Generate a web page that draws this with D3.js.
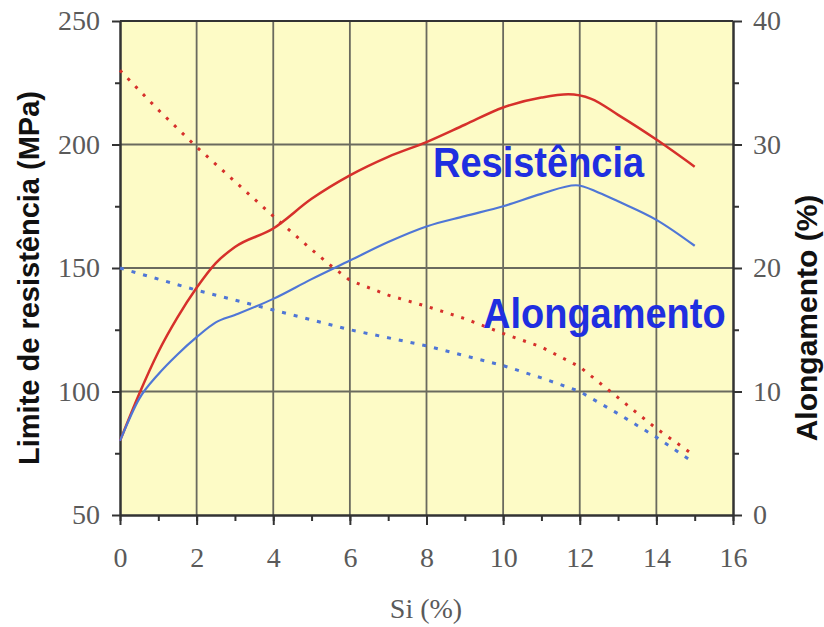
<!DOCTYPE html>
<html>
<head>
<meta charset="utf-8">
<script src="https://cdn.jsdelivr.net/npm/d3@7"></script>
<style>
  body { margin: 0; background: #fff; }
  svg { display: block; }
</style>
</head>
<body>
<script>
// data
const siRes = [0, 0.5, 1, 1.5, 2, 2.5, 3, 4, 5, 6, 7, 8, 9, 10, 11, 11.7, 12.3, 13, 14, 15]
const resRed = [80, 99, 116, 130, 142, 152, 158.5, 166, 178, 187.5, 195, 201, 208, 215, 219, 220.3, 218.5, 212, 202, 191]
const siResBlue = [0, 0.5, 1, 1.5, 2, 2.5, 3, 4, 5, 6, 7, 8, 9, 10, 11, 11.9, 12.5, 13, 14, 15]
const resBlue = [80, 97, 107, 115, 122, 128, 131, 137.5, 145.5, 153, 160.5, 166.8, 171, 175, 180, 183.5, 180.5, 177, 169.5, 159]

const siAlRed = [0, 1, 2, 3, 4, 5, 5.5, 6, 7, 8, 9, 10, 11, 12, 13, 14, 15]
const alRed = [36, 32.8, 29.8, 27, 24.2, 21.5, 20.2, 19, 17.8, 16.9, 15.9, 14.7, 13.6, 12, 9.5, 7, 4.8]
const siAlBlue = [0, 2, 4, 6, 8, 10, 11, 12, 13, 14, 14.9]
const alBlue = [20, 18.2, 16.6, 15, 13.7, 12.1, 11.1, 10, 8.2, 6.3, 4.4]

const xTicks = [0, 2, 4, 6, 8, 10, 12, 14, 16]
const leftTicks = [50, 100, 150, 200, 250]
const rightTicks = [0, 10, 20, 30, 40]

const width = 824, height = 627
const m = { left: 120, right: 733, top: 21, bottom: 515 }

const svg = d3.select('body').append('svg')
  .attr('width', width)
  .attr('height', height)

const x = d3.scaleLinear().domain([0, 16]).range([m.left, m.right])
const yL = d3.scaleLinear().domain([50, 250]).range([m.bottom, m.top])
const yR = d3.scaleLinear().domain([0, 40]).range([m.bottom, m.top])

// plot background
svg.append('rect')
  .attr('x', m.left).attr('y', m.top)
  .attr('width', m.right - m.left).attr('height', m.bottom - m.top)
  .attr('fill', '#fdfbc6')

// grid
svg.append('g').selectAll('line')
  .data(xTicks.filter(d => d > 0 && d < 16))
  .join('line')
  .attr('x1', d => x(d)).attr('x2', d => x(d))
  .attr('y1', m.top).attr('y2', m.bottom)
  .attr('stroke', '#6a6a5e').attr('stroke-width', 1.8)

svg.append('g').selectAll('line')
  .data(leftTicks.filter(d => d > 50 && d < 250))
  .join('line')
  .attr('x1', m.left).attr('x2', m.right)
  .attr('y1', d => yL(d)).attr('y2', d => yL(d))
  .attr('stroke', '#6a6a5e').attr('stroke-width', 1.8)

// axes
const tickFont = 'Liberation Serif, Times New Roman, serif'
function styleAxis(g) {
  g.selectAll('.domain').attr('stroke', '#333').attr('stroke-width', 2)
  g.selectAll('.tick line').attr('stroke', '#333').attr('stroke-width', 2)
  g.selectAll('text').attr('fill', '#5a5a5a').style('font-family', tickFont).style('font-size', '28px')
}

svg.append('g')
  .attr('transform', `translate(0,${m.bottom})`)
  .call(d3.axisBottom(x).tickValues(d3.range(0, 17)).tickSize(6).tickFormat('').tickSizeOuter(0))
  .call(styleAxis)
svg.append('g')
  .attr('transform', `translate(0,${m.bottom})`)
  .call(d3.axisBottom(x).tickValues(xTicks).tickSize(10).tickPadding(22).tickSizeOuter(0))
  .call(styleAxis)

svg.append('g')
  .attr('transform', `translate(${m.left},0)`)
  .call(d3.axisLeft(yL).tickValues([75, 125, 175, 225]).tickSize(5).tickFormat('').tickSizeOuter(0))
  .call(styleAxis)
svg.append('g')
  .attr('transform', `translate(${m.left},0)`)
  .call(d3.axisLeft(yL).tickValues(leftTicks).tickSize(8).tickPadding(12).tickSizeOuter(0))
  .call(styleAxis)

svg.append('g')
  .attr('transform', `translate(${m.right},0)`)
  .call(d3.axisRight(yR).tickValues([5, 15, 25, 35]).tickSize(6).tickFormat('').tickSizeOuter(0))
  .call(styleAxis)
svg.append('g')
  .attr('transform', `translate(${m.right},0)`)
  .call(d3.axisRight(yR).tickValues(rightTicks).tickSize(9).tickPadding(11).tickSizeOuter(0))
  .call(styleAxis)

// top frame
svg.append('line')
  .attr('x1', m.left).attr('x2', m.right)
  .attr('y1', m.top).attr('y2', m.top)
  .attr('stroke', '#333').attr('stroke-width', 2)

// lines
const red = '#d6302b', blue = '#4f76d6'
const lineL = d3.line().x(d => x(d[0])).y(d => yL(d[1])).curve(d3.curveMonotoneX)
const lineR = d3.line().x(d => x(d[0])).y(d => yR(d[1]))

svg.append('path')
  .datum(d3.zip(siRes, resRed))
  .attr('d', lineL).attr('fill', 'none')
  .attr('stroke', red).attr('stroke-width', 2.5)

svg.append('path')
  .datum(d3.zip(siResBlue, resBlue))
  .attr('d', lineL).attr('fill', 'none')
  .attr('stroke', blue).attr('stroke-width', 2.2)

svg.append('path')
  .datum(d3.zip(siAlRed, alRed))
  .attr('d', lineR).attr('fill', 'none')
  .attr('stroke', red).attr('stroke-width', 3)
  .attr('stroke-dasharray', '3,8')

svg.append('path')
  .datum(d3.zip(siAlBlue, alBlue))
  .attr('d', lineR).attr('fill', 'none')
  .attr('stroke', blue).attr('stroke-width', 3)
  .attr('stroke-dasharray', '4,8')

// labels
const sans = 'Liberation Sans, Arial, sans-serif'
svg.append('text')
  .attr('transform', 'translate(29,278) rotate(-90)')
  .attr('text-anchor', 'middle').attr('dominant-baseline', 'central')
  .style('font-family', sans).style('font-weight', 'bold').style('font-size', '29px')
  .attr('fill', '#111')
  .text('Limite de resistência (MPa)')

svg.append('text')
  .attr('transform', 'translate(806,318) rotate(-90)')
  .attr('text-anchor', 'middle').attr('dominant-baseline', 'central')
  .style('font-family', sans).style('font-weight', 'bold').style('font-size', '30px')
  .attr('fill', '#111')
  .text('Alongamento (%)')

svg.append('text')
  .attr('x', 426).attr('y', 618)
  .attr('text-anchor', 'middle')
  .style('font-family', tickFont).style('font-size', '28px')
  .attr('fill', '#5a5a5a')
  .text('Si (%)')

svg.append('text')
  .attr('transform', 'translate(433,177) scale(1,1.12)')
  .style('font-family', sans).style('font-weight', 'bold').style('font-size', '38px')
  .attr('fill', '#1f2fe0')
  .text('Resistência')

svg.append('text')
  .attr('transform', 'translate(483,328) scale(1,1.12)')
  .style('font-family', sans).style('font-weight', 'bold').style('font-size', '38px')
  .attr('fill', '#1f2fe0')
  .text('Alongamento')
</script>
</body>
</html>
